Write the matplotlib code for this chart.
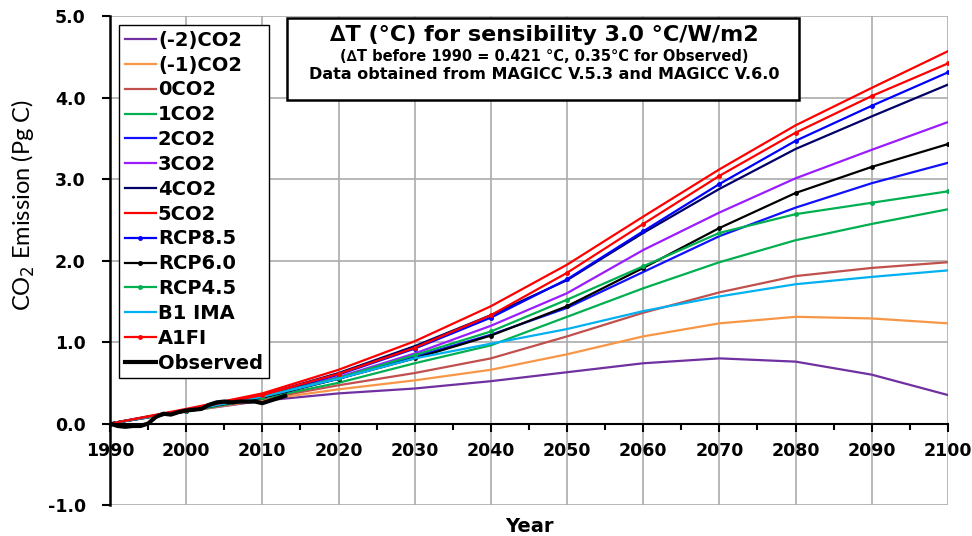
import numpy as np
import matplotlib
matplotlib.use('Agg')
import matplotlib.pyplot as plt
from matplotlib.patches import Rectangle
from matplotlib.ticker import MultipleLocator, FormatStrFormatter

years = [1990, 2000, 2010, 2020, 2030, 2040, 2050, 2060, 2070, 2080, 2090, 2100]

co2_m2 = [0, 0.15, 0.28, 0.37, 0.43, 0.52, 0.63, 0.74, 0.80, 0.76, 0.60, 0.35]
co2_m1 = [0, 0.15, 0.29, 0.42, 0.53, 0.66, 0.85, 1.07, 1.23, 1.31, 1.29, 1.23]
co2_0 = [0, 0.15, 0.30, 0.47, 0.62, 0.80, 1.07, 1.36, 1.61, 1.81, 1.91, 1.98]
co2_1 = [0, 0.15, 0.31, 0.50, 0.74, 0.96, 1.31, 1.66, 1.98, 2.25, 2.45, 2.63]
co2_2 = [0, 0.16, 0.32, 0.55, 0.82, 1.09, 1.42, 1.86, 2.30, 2.65, 2.95, 3.20]
co2_3 = [0, 0.16, 0.33, 0.57, 0.86, 1.20, 1.60, 2.13, 2.59, 3.01, 3.36, 3.70]
co2_4 = [0, 0.17, 0.35, 0.62, 0.95, 1.33, 1.76, 2.34, 2.88, 3.37, 3.77, 4.16]
co2_5 = [0, 0.18, 0.37, 0.66, 1.01, 1.44, 1.95, 2.54, 3.12, 3.66, 4.12, 4.57]
rcp85 = [0, 0.16, 0.34, 0.60, 0.92, 1.30, 1.77, 2.36, 2.94, 3.47, 3.90, 4.31]
rcp60 = [0, 0.16, 0.32, 0.55, 0.80, 1.08, 1.44, 1.91, 2.40, 2.83, 3.15, 3.43]
rcp45 = [0, 0.16, 0.33, 0.56, 0.84, 1.13, 1.52, 1.93, 2.34, 2.57, 2.71, 2.85]
b1_ima = [0, 0.16, 0.33, 0.55, 0.80, 0.98, 1.16, 1.38, 1.56, 1.71, 1.80, 1.88]
a1fi = [0, 0.17, 0.35, 0.61, 0.93, 1.33, 1.85, 2.45, 3.04, 3.57, 4.02, 4.42]

obs_years = list(range(1990, 2014))
observed = [0.0, -0.03, -0.04, -0.03, -0.03, 0.0, 0.08, 0.12, 0.11, 0.14, 0.16, 0.17,
            0.18, 0.23, 0.26, 0.27, 0.26, 0.27, 0.27, 0.27, 0.25, 0.28, 0.31, 0.34]

fig = plt.figure(figsize=(9.72, 5.36), dpi=100)
ax = fig.add_axes([0.1132, 0.0578, 0.862, 0.912])

lw = 1.6
ax.plot(years, co2_m2, color='#7030A0', lw=lw, label='(-2)CO2')
ax.plot(years, co2_m1, color='#F79646', lw=lw, label='(-1)CO2')
ax.plot(years, co2_0, color='#C0504D', lw=lw, label='0CO2')
ax.plot(years, co2_1, color='#00B050', lw=lw, label='1CO2')
ax.plot(years, co2_2, color='#1010FF', lw=lw, label='2CO2')
ax.plot(years, co2_3, color='#9B1DFF', lw=lw, label='3CO2')
ax.plot(years, co2_4, color='#000066', lw=lw, label='4CO2')
ax.plot(years, co2_5, color='#FF0000', lw=lw, label='5CO2')
ax.plot(years, rcp85, color='#0000FF', lw=lw, marker='o', ms=2.5, label='RCP8.5')
ax.plot(years, rcp60, color='black', lw=lw, marker='o', ms=2.5, label='RCP6.0')
ax.plot(years, rcp45, color='#00B050', lw=lw, marker='o', ms=2.5, label='RCP4.5')
ax.plot(years, b1_ima, color='#00B0F0', lw=lw, label='B1 IMA')
ax.plot(years, a1fi, color='#FF0000', lw=lw, marker='o', ms=2.5, label='A1FI')
ax.plot(obs_years, observed, color='black', lw=3, label='Observed')

ax.set_xlim(1990, 2100)
ax.set_ylim(-1.0, 5.0)
ax.xaxis.set_major_locator(MultipleLocator(10))
ax.xaxis.set_minor_locator(MultipleLocator(5))
ax.yaxis.set_major_locator(MultipleLocator(1.0))
ax.yaxis.set_major_formatter(FormatStrFormatter('%.1f'))
ax.grid(True, which='major', color='#ABABAB', lw=1.2)
ax.set_axisbelow(True)

for s in ['top', 'right']:
    ax.spines[s].set_visible(False)
ax.spines['bottom'].set_position(('data', 0))
ax.spines['bottom'].set_linewidth(1.5)
ax.spines['left'].set_linewidth(1.8)
ax.tick_params(axis='x', which='major', direction='out', length=6, width=1.5, pad=7)
ax.tick_params(axis='x', which='minor', direction='out', length=4, width=1.5)
ax.tick_params(axis='y', direction='out', length=6, width=1.5, pad=11.5)
for t in ax.get_xticklabels() + ax.get_yticklabels():
    t.set_fontweight('bold')
    t.set_fontsize(12.5)

ax.set_xlabel('Year', fontsize=14, fontweight='bold')
ax.xaxis.set_label_coords(0.5, -0.043)
ax.xaxis.label.set_va('center')
ax.set_ylabel('CO$_2$ Emission (Pg C)', fontsize=17, family='Lato')
ax.yaxis.set_label_coords(-0.087, 0.613)

leg = ax.legend(loc='upper left', bbox_to_anchor=(0.0107, 0.982), fancybox=False,
                edgecolor='black', framealpha=1, handlelength=1.6, handletextpad=0.1,
                borderaxespad=0, prop={'weight': 'bold', 'size': 14},
                labelspacing=0.3, borderpad=0.3)
leg.get_frame().set_linewidth(1.0)

ax.add_patch(Rectangle((0.2112, 0.8282), 0.611, 0.1677, transform=ax.transAxes,
                       facecolor='white', edgecolor='black', lw=1.8, zorder=5))
ax.text(0.518, 0.961, '\u2206T (\u00b0C) for sensibility 3.0 \u00b0C/W/m2', transform=ax.transAxes,
        ha='center', va='center', fontsize=16, fontweight='bold', zorder=6)
ax.text(0.518, 0.917, '(\u2206T before 1990 = 0.421 \u00b0C, 0.35\u00b0C for Observed)',
        transform=ax.transAxes, ha='center', va='center', fontsize=10.5, fontweight='bold', zorder=6)
ax.text(0.518, 0.881, 'Data obtained from MAGICC V.5.3 and MAGICC V.6.0',
        transform=ax.transAxes, ha='center', va='center', fontsize=11.5, fontweight='bold', zorder=6)

fig.savefig('out.png', dpi=100)
